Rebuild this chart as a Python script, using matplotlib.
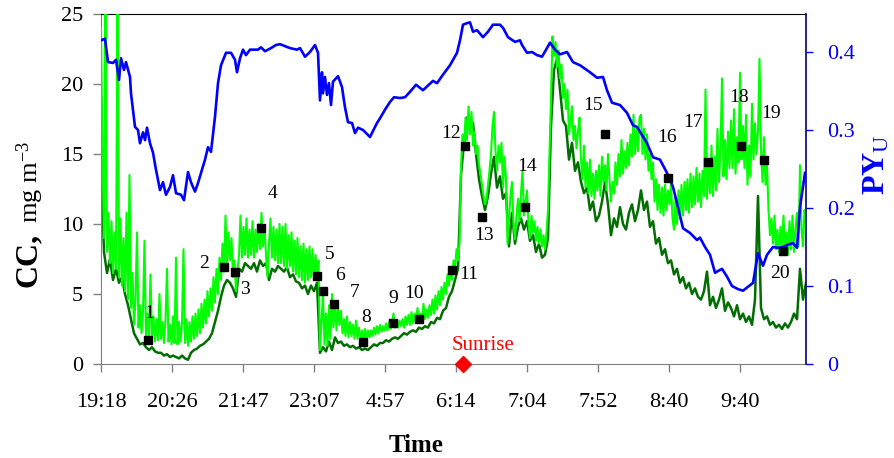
import numpy as np
import matplotlib
matplotlib.use('Agg')
import matplotlib.pyplot as plt

plt.rcParams['font.family'] = ['Liberation Serif', 'DejaVu Serif']
plt.rcParams['mathtext.fontset'] = 'custom'
plt.rcParams['mathtext.rm'] = 'Liberation Serif'
plt.rcParams['mathtext.bf'] = 'Liberation Serif:bold'
plt.rcParams['mathtext.it'] = 'Liberation Serif:italic'

# ---------------- data ----------------
tick_labels = ['19:18', '20:26', '21:47', '23:07', '4:57', '6:14', '7:04', '7:52', '8:40', '9:40']

# CC (mg m-3), light-green series, one value per recording step (step 1.5 time units)
cc_light = [
    24.0, 15.0, 9.0, 26.5, 8.0, 10.8, 7.2, 10.2, 6.5, 9.4, 6.8, 26.5, 6.2, 10.4, 5.6, 9.0, 5.2, 10.8, 4.6, 13.5,
    4.0, 6.5, 2.8, 4.6, 9.4, 2.6, 4.2, 2.2, 3.8, 8.8, 2.0, 3.6, 1.8, 6.4, 2.0, 3.4, 1.6, 3.2, 1.7, 5.0,
    1.8, 3.0, 1.5, 3.2, 6.8, 1.6, 2.8, 1.4, 3.4, 1.5, 7.6, 1.4, 3.0, 1.6, 2.9, 8.2, 1.5, 3.2, 1.3, 3.0,
    1.6, 3.4, 1.8, 3.6, 2.0, 3.9, 2.2, 4.3, 2.6, 4.6, 2.9, 5.2, 3.4, 5.4, 3.8, 6.2, 4.4, 6.8, 5.0, 7.6,
    6.0, 8.6, 6.6, 10.6, 7.0, 9.4, 7.4, 9.0, 6.2, 7.4, 5.2, 6.6, 7.8, 10.6, 7.6, 9.8, 7.8, 10.4, 7.6, 9.6,
    7.8, 10.2, 7.6, 9.6, 8.0, 10.0, 8.2, 10.8, 8.4, 9.8, 7.8, 6.2, 8.6, 10.4, 7.6, 9.8, 7.4, 9.6, 7.2, 10.0,
    7.2, 9.8, 7.0, 10.0, 6.8, 9.2, 7.0, 9.4, 6.6, 8.8, 6.4, 9.0, 6.2, 8.4, 6.0, 8.6, 5.8, 8.2, 6.0, 8.4,
    6.2, 8.2, 6.0, 7.8, 6.4, 7.4, 1.0, 3.0, 5.0, 1.4, 3.6, 1.3, 4.2, 1.8, 5.0, 2.6, 4.4, 2.4, 4.0, 2.8,
    3.8, 2.2, 3.2, 2.0, 3.4, 1.9, 3.0, 2.0, 2.8, 1.8, 3.1, 1.8, 2.6, 1.7, 2.4, 1.6, 2.5, 1.8, 2.4, 1.9,
    2.4, 2.0, 2.6, 2.1, 2.7, 2.2, 2.8, 2.3, 2.7, 2.4, 2.9, 2.4, 3.0, 2.5, 2.9, 3.6, 2.6, 3.0, 2.6, 3.1,
    2.7, 3.2, 2.6, 3.4, 2.8, 3.5, 2.8, 3.7, 2.9, 3.6, 3.0, 4.0, 3.1, 3.6, 3.2, 4.3, 3.2, 3.9, 3.3, 4.2,
    3.5, 4.6, 3.6, 4.9, 3.9, 5.2, 4.2, 5.5, 4.6, 5.8, 5.0, 6.4, 5.6, 6.8, 6.0, 7.4, 6.8, 8.2, 7.4, 8.6,
    14.0, 16.4, 15.4, 17.6, 16.0, 18.4, 16.4, 18.0, 15.6, 16.6, 15.0, 15.6, 14.2, 13.6, 12.8, 12.0, 11.4, 11.8, 12.8, 13.8,
    15.0, 17.0, 18.0, 15.2, 13.8, 15.6, 14.4, 15.8, 12.6, 14.8, 13.2, 8.6, 10.4, 12.0, 13.0, 10.0, 8.9, 10.6, 11.8, 10.2,
    12.2, 13.8, 10.6, 11.6, 12.4, 10.0, 9.0, 10.6, 9.4, 10.2, 8.8, 9.8, 8.6, 9.6, 8.4, 9.2, 8.2, 9.4, 11.0, 15.0,
    19.0, 23.4, 22.0, 23.0, 21.2, 22.4, 20.4, 21.4, 19.0, 20.0, 18.2, 19.6, 16.4, 17.4, 18.4, 16.0, 17.0, 15.4, 16.6, 17.6,
    14.6, 13.2, 15.6, 12.6, 14.4, 12.2, 14.6, 12.0, 13.6, 11.8, 13.8, 12.4, 14.2, 12.0, 14.8, 13.0, 14.2, 12.4, 15.0, 13.2,
    11.6, 13.0, 12.2, 14.4, 12.8, 15.0, 13.4, 16.0, 13.6, 15.2, 14.0, 15.8, 14.2, 16.4, 14.8, 17.8, 15.0, 16.8, 15.2, 17.6,
    17.8, 15.0, 16.8, 14.6, 16.4, 13.8, 15.0, 13.2, 14.4, 11.6, 13.2, 11.0, 12.8, 10.8, 12.6, 10.6, 12.8, 11.0, 12.4, 11.4,
    12.8, 10.4, 9.6, 11.8, 10.0, 12.4, 10.4, 12.8, 10.6, 13.0, 11.0, 13.2, 10.8, 13.6, 11.2, 13.4, 11.4, 14.0, 11.6, 13.6,
    11.2, 13.8, 12.0, 19.6, 11.8, 14.6, 12.2, 15.6, 12.0, 14.8, 12.4, 16.8, 13.0, 15.4, 20.4, 13.4, 16.0, 13.2, 16.6, 14.0,
    17.4, 14.0, 18.2, 13.6, 16.2, 14.4, 20.8, 14.6, 17.0, 14.0, 17.8, 12.8, 15.6, 13.4, 18.6, 14.6, 17.2, 15.0, 16.6, 21.8,
    15.4, 13.0, 16.2, 12.8, 14.2, 11.0, 9.2, 10.4, 8.6, 10.6, 8.2, 9.6, 8.0, 9.8, 8.2, 10.6, 7.9, 9.4, 7.8, 10.2,
    8.2, 10.6, 8.0, 9.6, 10.8, 8.4, 14.2, 9.6, 8.4, 11.0, 10.2,
]
light_step = 1.5

# CC (mg m-3), dark-green series (step 3 time units)
cc_dark = [
    14.5, 8.0, 6.5, 7.5, 6.0, 6.8, 5.8, 6.2, 5.0, 4.2,
    3.2, 2.2, 1.8, 1.4, 1.5, 1.2, 1.0, 1.2, 0.9, 0.8,
    0.8, 0.6, 0.7, 0.5, 0.6, 0.5, 0.4, 0.6, 0.4, 0.3,
    0.8, 1.0, 1.1, 1.3, 1.4, 1.6, 1.8, 2.2, 3.0, 3.8,
    4.8, 5.6, 6.0, 5.8, 5.4, 4.8, 6.8, 6.6, 7.2, 7.0,
    6.8, 7.2, 6.6, 7.4, 7.0, 7.2, 6.0, 6.8, 6.6, 7.0,
    6.8, 6.6, 6.9, 6.2, 6.4, 5.9, 5.8, 5.4, 5.6, 5.0,
    5.6, 5.2, 5.8, 0.8, 1.2, 0.9, 1.6, 1.0, 1.9, 1.5,
    1.6, 1.3, 1.4, 1.2, 1.3, 1.1, 1.2, 1.0, 1.1, 1.0,
    1.2, 1.4, 1.3, 1.5, 1.5, 1.7, 1.6, 1.8, 1.9, 1.8,
    2.0, 2.2, 2.1, 2.3, 2.4, 2.3, 2.6, 2.5, 2.7, 2.6,
    3.0, 2.9, 3.3, 3.2, 3.8, 4.0, 4.8, 5.2, 6.0, 6.8,
    13.5, 15.8, 17.6, 16.8, 17.2, 15.0, 13.2, 12.0, 11.0, 12.0,
    13.6, 14.8, 12.6, 13.4, 11.8, 12.2, 8.4, 10.8, 8.6, 9.8,
    10.4, 9.6, 10.2, 8.8, 9.2, 8.0, 8.6, 7.6, 7.8, 9.0,
    17.0, 21.0, 21.8, 19.6, 17.4, 17.0, 14.6, 15.8, 13.8, 14.4,
    13.0, 12.2, 12.6, 11.0, 11.6, 10.2, 10.6, 11.6, 13.0, 11.4,
    9.2, 10.4, 9.8, 11.2, 10.0, 9.6, 10.8, 11.4, 10.2, 11.0,
    12.4, 11.0, 11.6, 9.8, 10.2, 8.6, 9.0, 7.8, 8.2, 7.2,
    7.4, 6.4, 6.8, 5.8, 6.2, 5.4, 5.8, 5.0, 5.4, 4.8,
    4.6, 5.2, 6.6, 4.2, 4.8, 4.0, 4.6, 5.4, 3.8, 4.4,
    4.0, 3.4, 4.2, 3.2, 3.6, 3.0, 3.4, 2.8, 4.6, 12.0,
    4.0, 3.2, 3.4, 2.8, 3.0, 2.6, 2.8, 2.5, 2.9, 2.6,
    3.0, 3.6, 3.2, 6.8, 4.6, 5.8,
]
dark_step = 3

# PY_U series (time units, value)
blue_t = [0, 4, 7, 12, 15, 18, 20, 23, 25, 29, 30, 34, 37, 39, 42, 44, 46, 49, 52, 55,
          59, 62, 65, 69, 72, 75, 80, 83, 87, 90, 94, 97, 100, 104, 107, 110, 114, 117, 120, 125,
          130, 134, 136, 139, 142, 145, 149, 157, 160, 164, 170, 175, 179, 189, 196, 199, 204, 209, 214, 217,
          219, 221, 222, 224, 226, 228, 230, 232, 237, 241, 244, 247, 251, 254, 257, 262, 269, 276, 279, 284,
          289, 293, 299, 304, 309, 315, 322, 332, 336, 342, 349, 356, 359, 362, 366, 369, 372, 376, 382, 387,
          392, 399, 402, 407, 414, 419, 421, 426, 431, 436, 441, 446, 449, 454, 459, 466, 472, 479, 489, 496,
          502, 506, 511, 519, 526, 532, 536, 546, 552, 559, 566, 572, 577, 582, 589, 596, 599, 604, 609, 614,
          621, 626, 631, 637, 642, 647, 652, 657, 662, 666, 672, 677, 682, 687, 692, 696, 699, 704]
blue_py = [0.415, 0.417, 0.387, 0.386, 0.390, 0.364, 0.392, 0.377, 0.387, 0.368, 0.347, 0.304, 0.300, 0.283, 0.297, 0.287, 0.303, 0.283, 0.271, 0.249,
           0.223, 0.233, 0.217, 0.227, 0.242, 0.219, 0.217, 0.210, 0.246, 0.233, 0.221, 0.232, 0.245, 0.262, 0.278, 0.272, 0.317, 0.360, 0.383, 0.399,
           0.399, 0.390, 0.374, 0.392, 0.403, 0.396, 0.403, 0.403, 0.406, 0.401, 0.405, 0.409, 0.410, 0.405, 0.403, 0.405, 0.394, 0.400, 0.409, 0.399,
           0.338, 0.374, 0.347, 0.368, 0.345, 0.360, 0.332, 0.362, 0.369, 0.355, 0.329, 0.310, 0.309, 0.296, 0.303, 0.300, 0.291, 0.309, 0.315, 0.326,
           0.336, 0.342, 0.341, 0.342, 0.349, 0.358, 0.351, 0.363, 0.360, 0.371, 0.383, 0.399, 0.415, 0.435, 0.437, 0.438, 0.426, 0.428, 0.419, 0.426,
           0.435, 0.435, 0.431, 0.419, 0.413, 0.415, 0.409, 0.399, 0.400, 0.396, 0.394, 0.405, 0.412, 0.403, 0.397, 0.400, 0.387, 0.383, 0.374, 0.367,
           0.368, 0.351, 0.335, 0.332, 0.322, 0.306, 0.304, 0.283, 0.265, 0.262, 0.245, 0.227, 0.201, 0.174, 0.168, 0.159, 0.162, 0.150, 0.140, 0.117,
           0.122, 0.112, 0.100, 0.096, 0.094, 0.099, 0.104, 0.142, 0.126, 0.140, 0.150, 0.149, 0.150, 0.153, 0.155, 0.149, 0.201, 0.245]

# numbered sampling points
point_labels = [str(i) for i in range(1, 21)]
point_t = [47, 123, 134, 160, 216, 222, 233, 262, 292, 318, 351, 364, 381, 424, 504, 567, 607, 640, 663, 682]
point_cc = [1.7, 6.9, 6.6, 9.7, 6.3, 5.2, 4.3, 1.6, 2.9, 3.2, 6.7, 15.6, 10.5, 11.2, 16.4, 13.3, 14.4, 15.6, 14.6, 8.1]
# label offsets (pixels) - layout only
label_offsets = [(1, 27), (-20, 4), (10, -18), (12, 35), (13, 21), (17, 16), (21, 11), (3, 24), (0, 25), (-5, 26),
                 (17, -4), (-14, 12), (2, -18), (2, 41), (-12, 29), (-1, 40), (-15, 40), (-2, 48), (7, 46), (-3, -23)]

sunrise_t = 362
sunrise_cc = 0

# ---------------- plot ----------------
W, H = 894, 458
fig = plt.figure(figsize=(W / 100, H / 100), dpi=100)
ax = fig.add_axes([101 / W, 1 - 364 / H, 705 / W, 350 / H])
ax2 = ax.twinx()

dark_t = np.arange(len(cc_dark)) * dark_step
light_t = np.arange(len(cc_light)) * light_step
ax.plot(dark_t, cc_dark, color='#006E00', lw=1.8, zorder=2)
ax.plot(light_t, cc_light, color='#00FF00', lw=1.5, zorder=3)

ax2.plot(blue_t, blue_py, color='#0000FF', lw=1.9, zorder=4)

ax.set_xlim(0, 705)
ax.set_ylim(0, 25)
ax2.set_ylim(0, 350 / 780)

tick_step = 71
ax.set_xticks(np.arange(len(tick_labels)) * tick_step)
ax.set_xticklabels(tick_labels)
ax.set_yticks([0, 5, 10, 15, 20, 25])
ax2.set_yticks([0, 0.1, 0.2, 0.3, 0.4])
ax2.set_yticklabels(['0', '0.1', '0.2', '0.3', '0.4'])

ax.tick_params(axis='x', direction='out', length=6, width=1, color='#808080', labelsize=16, pad=15)
ax.tick_params(axis='y', direction='out', length=6, width=1, color='#808080', labelsize=16, pad=7)
ax2.tick_params(axis='y', direction='out', length=5, width=1, color='#0000FF', labelcolor='#0000FF', labelsize=16, pad=10)

for s in ['left', 'bottom']:
    ax.spines[s].set_color('#808080')
ax.spines['top'].set_color('black')
ax.spines['right'].set_visible(False)
for s in ['left', 'bottom', 'top']:
    ax2.spines[s].set_visible(False)
ax2.spines['right'].set_color('#000080')
ax2.spines['right'].set_linewidth(1.2)

# markers & labels on the top axes so they sit over every line
ax2.plot(point_t, point_cc, 's', color='black', ms=6.2, transform=ax.transData, zorder=6)
for lbl, t, c, off in zip(point_labels, point_t, point_cc, label_offsets):
    ax2.annotate(lbl, xy=(t, c), xycoords=ax.transData, xytext=off, textcoords='offset pixels',
                 ha='center', va='center', fontsize=14, color='black', zorder=7)

ax2.plot([sunrise_t], [sunrise_cc], 'D', color='#FF0000', ms=8, transform=ax.transData,
         clip_on=False, zorder=8)
ax2.annotate('Sunrise', xy=(sunrise_t, sunrise_cc), xycoords=ax.transData, xytext=(20, 18),
             textcoords='offset pixels', ha='center', va='center', fontsize=15, color='#FF0000')

# axis titles
fig.text(28 / W, 1 - 260 / H, 'CC,', rotation=90, fontsize=23, fontweight='bold', ha='center', va='center')
fig.text(30 / W, 1 - 182 / H, r'mg m$^{-3}$', rotation=90, fontsize=19, ha='center', va='center')
fig.text(416 / W, 1 - 445 / H, 'Time', fontsize=18, fontweight='bold', ha='center', va='center')
fig.text(877 / W, 1 - 165 / H, r'$\mathbf{PY}_{\mathrm{U}}$', rotation=90, fontsize=23, color='#0000FF',
         ha='center', va='center')

fig.savefig('out.png', dpi=100)
